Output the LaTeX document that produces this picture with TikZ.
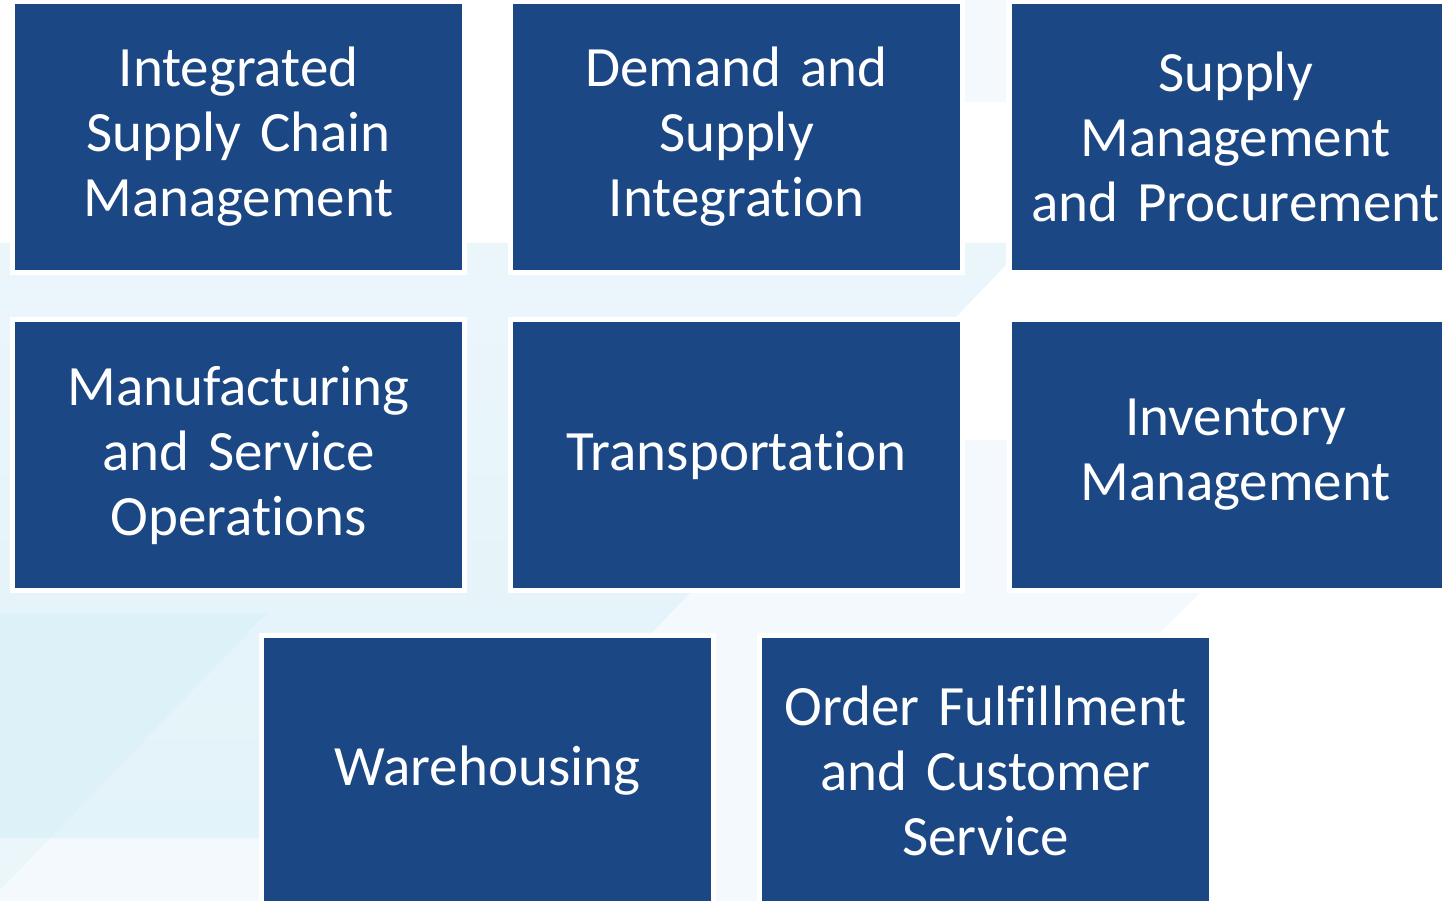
\documentclass[tikz,border=0pt]{standalone}
\usepackage{fontspec}
\setmainfont[Ligatures=NoCommon]{Carlito}
\definecolor{boxblue}{HTML}{1B4784}
\definecolor{bgA}{HTML}{F3F9FC}
\definecolor{bgB1}{HTML}{EBF6FB}
\definecolor{bgB2}{HTML}{E2F3F9}
\definecolor{bgC}{HTML}{DCF1F8}
\definecolor{bgD}{HTML}{EAF6FA}
\begin{document}
\begin{tikzpicture}[x=1pt,y=-1pt,
  card/.style={fill=boxblue, draw=white, line width=5pt, minimum width=452pt,
    minimum height=271pt, inner sep=0pt, text=white, align=center,
    text width=440pt, font=\fontsize{57}{65}\selectfont}]
\useasboundingbox (0,0) rectangle (1442,901);
\clip (0,0) rectangle (1442,901);
% background shapes
\fill[bgA] (963,0) rectangle (1006,102);
\fill[bgA] (0,440) -- (1010,440) -- (1010,593) -- (1200,593) -- (1160,633) -- (1160,901) -- (0,901) -- cycle;
\shade[top color=bgB1,bottom color=bgB2] (0,243) -- (1006,243) -- (1006,265) -- (454,838) -- (0,838) -- cycle;
\fill[bgC] (0,613) -- (267,613) -- (50,838) -- (0,838) -- cycle;
\fill[bgD] (0,838) -- (50,838) -- (0,890) -- cycle;
% cards
\node[card] (isc) at (238.5,137) {Integrated\\Supply Chain\\Management};
\node[card] (dsi) at (736.5,137) {Demand and\\Supply\\Integration};
\node[card] (smp) at (1235.5,137) {Supply\\Management\\and Procurement};
\node[card] (mso) at (238.5,455) {Manufacturing\\and Service\\Operations};
\node[card] (tra) at (736.5,455) {Transportation};
\node[card] (inv) at (1235.5,455) {Inventory\\Management};
\node[card] (war) at (487.5,771) {Warehousing};
\node[card] (ofc) at (985.5,771) {Order Fulfillment\\and Customer\\Service};
\end{tikzpicture}
\end{document}
